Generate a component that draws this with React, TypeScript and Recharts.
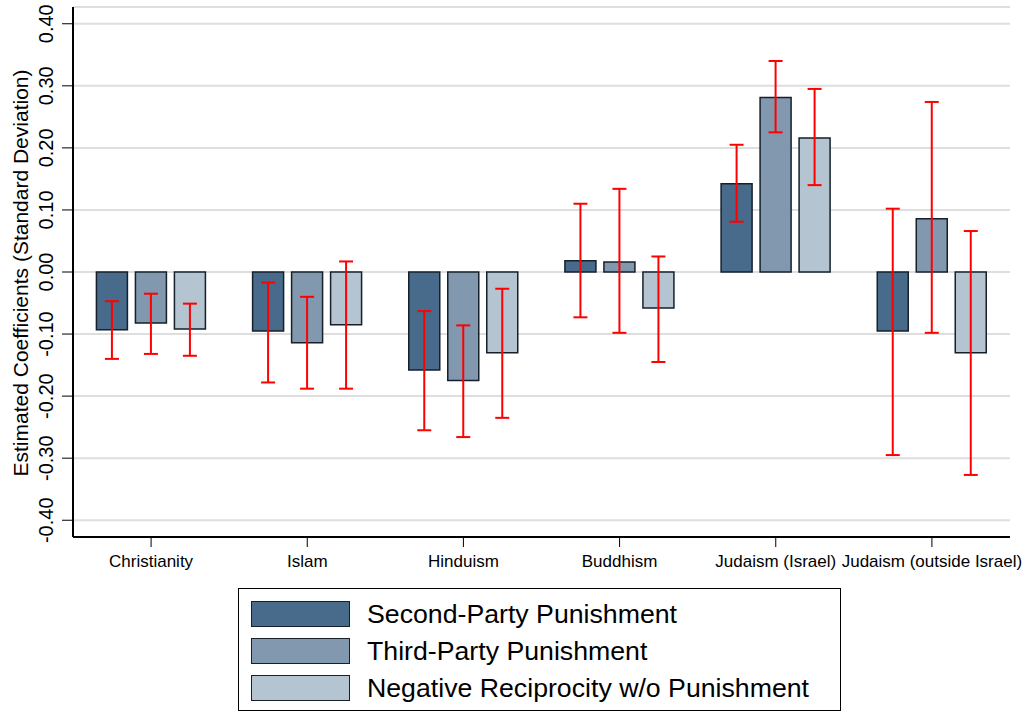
import React from "react";
import { BarChart, Bar, XAxis, YAxis, CartesianGrid, ErrorBar } from "recharts";

const categories = [
  "Christianity",
  "Islam",
  "Hinduism",
  "Buddhism",
  "Judaism (Israel)",
  "Judaism (outside Israel)",
];

const seriesNames = [
  "Second-Party Punishment",
  "Third-Party Punishment",
  "Negative Reciprocity w/o Punishment",
];
const seriesColors = ["#486a8b", "#8198ae", "#b5c4d1"];

// point estimates
const secondParty = [-0.093, -0.095, -0.158, 0.018, 0.142, -0.095];
const thirdParty = [-0.082, -0.114, -0.175, 0.016, 0.281, 0.086];
const negRecip = [-0.092, -0.085, -0.13, -0.058, 0.216, -0.13];

// confidence intervals [low, high]
const secondPartyCI = [
  [-0.14, -0.047],
  [-0.178, -0.017],
  [-0.255, -0.063],
  [-0.073, 0.11],
  [0.081, 0.205],
  [-0.295, 0.102],
];
const thirdPartyCI = [
  [-0.132, -0.035],
  [-0.188, -0.04],
  [-0.266, -0.086],
  [-0.098, 0.134],
  [0.225, 0.34],
  [-0.098, 0.274],
];
const negRecipCI = [
  [-0.135, -0.051],
  [-0.188, 0.017],
  [-0.235, -0.027],
  [-0.145, 0.025],
  [0.14, 0.295],
  [-0.327, 0.066],
];

const yTicks = [-0.4, -0.3, -0.2, -0.1, 0, 0.1, 0.2, 0.3, 0.4];

const FONT = "'Liberation Sans', Arial, Helvetica, sans-serif";

const err = (v: number, ci: number[]) => [v - ci[0], ci[1] - v];

const data = categories.map((name, i) => ({
  name,
  s1: secondParty[i],
  s2: thirdParty[i],
  s3: negRecip[i],
  e1: err(secondParty[i], secondPartyCI[i]),
  e2: err(thirdParty[i], thirdPartyCI[i]),
  e3: err(negRecip[i], negRecipCI[i]),
}));

const YTick = (props: any) => {
  const { y, payload } = props;
  const bx = 53;
  return (
    <text
      x={bx}
      y={y}
      transform={`rotate(-90, ${bx}, ${y})`}
      textAnchor="middle"
      fontSize={20}
      fontFamily={FONT}
      fill="#000"
    >
      {Number(payload.value).toFixed(2)}
    </text>
  );
};

const YTitle = () => (
  <text
    x={28}
    y={273}
    transform="rotate(-90, 28, 273)"
    textAnchor="middle"
    fontSize={21}
    fontFamily={FONT}
    fill="#000"
  >
    Estimated Coefficients (Standard Deviation)
  </text>
);

export default function App() {
  return (
    <div style={{ position: "absolute", left: 0, top: 0, width: 1024, height: 712, background: "#fff" }}>
      <BarChart
        width={1024}
        height={712}
        data={data}
        margin={{ top: 7, right: 14, bottom: 135, left: 0 }}
        barCategoryGap="15%"
        barGap={8}
      >
        <CartesianGrid horizontal vertical={false} stroke="#dedede" strokeWidth={2} />
        <XAxis
          dataKey="name"
          interval={0}
          height={40}
          tickSize={10}
          tickMargin={8}
          tick={{ fontSize: 17, fontFamily: FONT, fill: "#000" }}
          tickLine={{ stroke: "#000", strokeWidth: 1 }}
          axisLine={{ stroke: "#000", strokeWidth: 2 }}
        />
        <XAxis
          xAxisId="top"
          dataKey="name"
          orientation="top"
          height={0}
          tick={false}
          tickLine={false}
          axisLine={{ stroke: "#000", strokeWidth: 1 }}
        />
        <YAxis
          width={73}
          domain={[-0.427, 0.427]}
          ticks={yTicks}
          interval={0}
          tickSize={11}
          tick={<YTick />}
          tickLine={{ stroke: "#000", strokeWidth: 1 }}
          axisLine={{ stroke: "#000", strokeWidth: 2 }}
          label={{ content: () => <YTitle /> }}
        />
        <YAxis
          yAxisId="right"
          orientation="right"
          width={0}
          domain={[-0.427, 0.427]}
          tick={false}
          tickLine={false}
          axisLine={{ stroke: "#000", strokeWidth: 1 }}
        />
        {(["s1", "s2", "s3"] as const).map((k, i) => (
          <Bar
            key={k}
            dataKey={k}
            name={seriesNames[i]}
            fill={seriesColors[i]}
            stroke="#15202b"
            strokeWidth={1.5}
            isAnimationActive={false}
          >
            <ErrorBar dataKey={`e${i + 1}`} width={7} stroke="#ff0000" strokeWidth={2} />
          </Bar>
        ))}
      </BarChart>
      <div
        style={{
          position: "absolute",
          left: 238,
          top: 588,
          width: 601,
          height: 121,
          border: "1px solid #000",
          fontFamily: FONT,
          fontSize: 26.7,
          color: "#000",
        }}
      >
        {seriesNames.map((n, i) => (
          <div
            key={n}
            style={{ position: "absolute", left: 12, top: 12 + i * 37, height: 26, display: "flex", alignItems: "center" }}
          >
            <div
              style={{
                width: 97,
                height: 24,
                background: seriesColors[i],
                border: "1px solid #15202b",
                marginRight: 17,
              }}
            />
            <span style={{ whiteSpace: "nowrap", lineHeight: "26px" }}>{n}</span>
          </div>
        ))}
      </div>
    </div>
  );
}
